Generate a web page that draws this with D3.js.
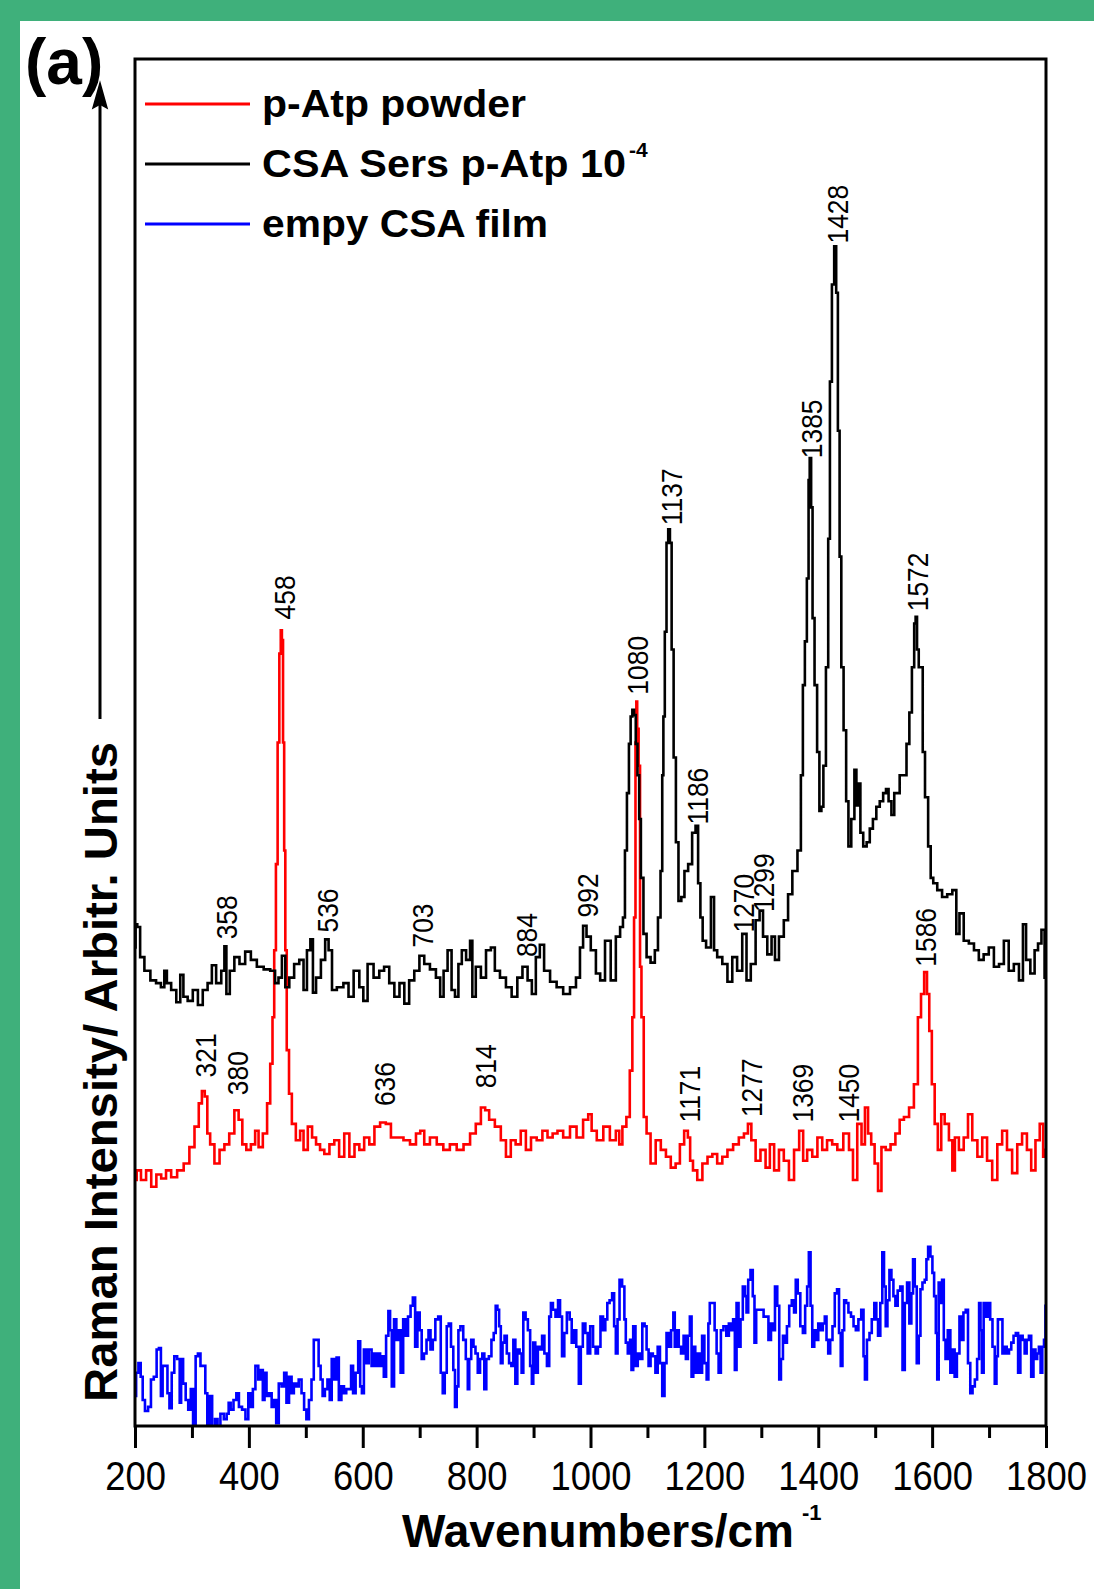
<!DOCTYPE html>
<html>
<head>
<meta charset="utf-8">
<script src="https://cdn.jsdelivr.net/npm/d3@7"></script>
<style>
  body { margin: 0; background: #fff; }
  svg { display: block; font-family: Arial, "Liberation Sans", sans-serif; }
</style>
</head>
<body>
<svg id="chart"></svg>
<script>
// x axis ticks (wavenumber, cm^-1)
const majorTicks = [200, 400, 600, 800, 1000, 1200, 1400, 1600, 1800];
const minorTicks = [300, 500, 700, 900, 1100, 1300, 1500, 1700];

// [wavenumber, intensity (arb. units)]
const csaSers = [[200,35.0],[202,36.7],[206,36.5],[212,34.3],[221,33.3],[233,32.6],[241,32.4],[250,32.1],[253,33.3],[259,32.4],[268,31.9],[277,31.0],[282,33.0],[288,31.4],[297,31.1],[306,31.9],[315,30.8],[323,31.9],[332,32.4],[338,33.7],[347,32.4],[356,33.3],[358,35.1],[363,31.6],[370,33.3],[379,34.3],[388,33.8],[399,34.7],[408,34.1],[420,33.6],[432,33.4],[443,33.3],[449,32.4],[455,32.8],[461,34.4],[467,32.1],[475,32.8],[484,33.8],[493,34.1],[499,31.9],[505,34.8],[511,35.6],[514,31.7],[522,32.8],[531,34.1],[537,35.6],[543,34.8],[549,31.9],[560,32.1],[572,32.4],[578,31.4],[590,33.3],[598,32.1],[604,31.1],[613,33.8],[625,32.8],[633,33.3],[642,33.6],[651,32.4],[660,31.4],[669,32.4],[677,30.9],[686,32.6],[695,33.3],[704,34.4],[712,33.8],[724,33.4],[733,32.8],[739,31.4],[745,33.3],[753,34.8],[759,31.9],[765,31.4],[771,33.8],[777,34.8],[786,34.1],[791,35.5],[794,31.4],[803,33.6],[812,32.8],[821,34.8],[829,35.0],[835,33.3],[847,32.8],[856,32.1],[867,31.4],[876,32.8],[885,33.6],[894,32.6],[900,31.6],[908,34.3],[914,35.2],[923,33.3],[935,32.5],[946,32.1],[958,31.6],[970,32.1],[979,32.8],[984,35.0],[990,36.6],[996,35.8],[1005,34.8],[1014,33.1],[1020,32.6],[1031,35.5],[1040,32.6],[1049,35.8],[1055,36.5],[1059,37.2],[1062,42.1],[1066,46.3],[1069,49.9],[1072,51.9],[1075,52.4],[1078,52.0],[1081,49.9],[1084,47.6],[1087,44.4],[1090,40.1],[1096,36.0],[1101,34.3],[1110,33.9],[1116,34.8],[1121,37.2],[1125,40.6],[1127,47.6],[1129,51.9],[1132,58.1],[1135,64.6],[1138,65.6],[1141,64.6],[1144,56.8],[1148,48.9],[1152,42.7],[1157,38.4],[1162,38.7],[1168,40.6],[1175,41.1],[1182,43.4],[1187,43.9],[1191,39.7],[1195,37.2],[1199,35.5],[1207,35.0],[1216,38.7],[1218,34.8],[1227,34.3],[1236,33.8],[1245,32.5],[1253,34.3],[1262,33.3],[1271,36.0],[1277,32.6],[1286,33.8],[1294,37.0],[1300,37.7],[1306,35.8],[1315,34.5],[1321,35.8],[1327,34.1],[1335,35.8],[1344,37.0],[1350,38.9],[1359,40.6],[1368,42.1],[1371,47.6],[1375,54.2],[1378,57.4],[1382,62.0],[1384,69.2],[1386,70.8],[1389,67.2],[1391,59.1],[1396,54.2],[1400,49.3],[1404,45.0],[1407,45.3],[1411,48.3],[1416,55.5],[1419,64.9],[1422,76.4],[1426,83.5],[1430,86.3],[1433,82.9],[1436,72.8],[1439,63.6],[1442,55.5],[1447,50.9],[1451,45.7],[1455,42.4],[1461,44.4],[1466,48.0],[1468,45.4],[1472,47.0],[1476,43.4],[1482,42.4],[1488,42.7],[1493,43.7],[1499,44.4],[1505,45.3],[1511,45.7],[1517,46.3],[1521,46.6],[1526,45.7],[1531,44.7],[1536,46.3],[1540,46.3],[1546,47.6],[1552,47.6],[1558,49.9],[1562,52.2],[1567,55.5],[1570,58.7],[1572,59.2],[1575,56.8],[1578,55.5],[1582,55.5],[1585,49.3],[1590,46.0],[1596,42.4],[1599,40.1],[1605,39.7],[1613,39.2],[1622,38.7],[1631,38.9],[1640,39.2],[1645,36.0],[1651,37.5],[1660,35.5],[1669,35.3],[1678,34.8],[1686,34.1],[1695,34.5],[1704,35.0],[1713,33.6],[1722,33.8],[1730,35.5],[1739,33.3],[1748,33.8],[1757,32.6],[1762,36.7],[1768,34.1],[1777,33.1],[1783,34.8],[1789,35.3],[1795,36.3],[1800,32.8]];

const atpPowder = [[200,18.0],[206,18.7],[215,18.0],[224,18.7],[233,17.5],[242,18.4],[250,18.1],[259,18.7],[268,18.2],[280,18.7],[291,19.2],[300,20.4],[309,21.9],[315,23.6],[320,24.5],[325,24.1],[329,21.4],[335,20.6],[344,19.2],[353,20.2],[361,20.6],[370,21.4],[379,23.1],[385,22.4],[392,20.6],[399,20.2],[408,20.6],[414,21.6],[420,20.4],[429,21.4],[435,23.6],[440,26.5],[443,29.9],[446,34.8],[449,41.1],[452,50.0],[455,56.5],[457,58.2],[459,57.5],[461,50.0],[463,42.1],[465,34.8],[468,27.5],[473,24.3],[478,22.1],[487,20.9],[493,21.6],[499,20.2],[508,21.9],[514,21.1],[522,20.6],[528,20.2],[537,19.9],[546,20.6],[554,20.9],[563,19.7],[572,21.4],[581,19.7],[590,20.6],[598,20.2],[607,21.1],[616,20.6],[625,21.9],[636,22.2],[645,22.1],[654,21.1],[666,21.1],[677,20.9],[689,20.6],[698,21.4],[704,21.6],[712,20.6],[724,21.1],[736,20.6],[747,20.2],[759,20.6],[771,20.2],[783,20.6],[794,21.4],[803,22.1],[812,23.3],[818,23.1],[826,22.4],[838,21.9],[847,20.9],[856,19.7],[864,20.9],[873,20.6],[882,21.6],[891,20.2],[900,21.1],[911,20.9],[920,21.6],[929,21.1],[938,21.4],[946,21.6],[958,21.1],[970,21.9],[981,21.1],[993,22.4],[999,22.8],[1005,21.6],[1017,20.9],[1028,21.9],[1040,20.9],[1049,21.6],[1052,20.6],[1060,21.9],[1066,22.6],[1072,26.0],[1075,29.9],[1078,37.2],[1080,50.0],[1081,53.0],[1083,51.0],[1086,48.3],[1088,33.6],[1091,29.9],[1096,22.6],[1101,21.4],[1110,19.2],[1119,20.9],[1128,20.2],[1137,19.7],[1145,18.9],[1154,19.2],[1160,20.6],[1169,21.6],[1173,21.1],[1177,19.4],[1183,18.7],[1192,18.0],[1201,19.2],[1210,19.7],[1218,19.9],[1227,19.2],[1236,19.7],[1245,20.2],[1256,20.6],[1265,21.1],[1274,21.4],[1279,22.1],[1286,20.9],[1294,19.4],[1303,20.2],[1312,18.9],[1318,20.6],[1327,18.7],[1335,20.2],[1344,19.4],[1353,18.0],[1362,20.2],[1371,21.6],[1376,19.4],[1385,20.2],[1394,19.7],[1403,21.1],[1411,20.2],[1420,20.9],[1429,20.6],[1438,20.2],[1450,21.4],[1458,20.2],[1464,18.0],[1473,22.1],[1479,20.6],[1485,23.3],[1490,21.4],[1496,20.6],[1502,19.2],[1508,17.2],[1514,20.4],[1523,20.2],[1531,20.6],[1540,21.4],[1546,22.4],[1555,22.6],[1564,23.3],[1572,25.0],[1578,29.9],[1583,31.6],[1589,33.2],[1593,31.6],[1597,28.9],[1602,25.0],[1607,22.1],[1613,20.2],[1619,22.8],[1625,22.1],[1634,20.9],[1637,18.7],[1643,21.1],[1651,20.2],[1660,21.1],[1666,22.8],[1675,20.9],[1684,19.7],[1692,21.1],[1701,19.4],[1710,18.0],[1719,20.6],[1727,21.6],[1736,20.2],[1745,18.5],[1754,20.6],[1762,21.4],[1771,20.2],[1777,18.7],[1786,20.9],[1792,22.1],[1798,19.7],[1800,20.2]];

const emptyFilm = [[200,2.2],[204,3.9],[208,4.6],[212,3.6],[215,1.9],[220,1.1],[226,1.4],[230,3.4],[236,3.6],[240,5.6],[244,5.7],[247,2.2],[250,4.4],[255,4.4],[259,2.4],[262,1.3],[267,3.9],[271,5.1],[277,4.9],[280,1.7],[282,4.9],[287,3.1],[291,1.9],[296,1.2],[300,2.7],[304,-0.5],[309,5.1],[312,5.3],[318,4.4],[322,4.4],[325,2.4],[329,-0.5],[333,2.2],[338,-0.5],[343,0.5],[347,-0.5],[353,0.9],[359,0.5],[363,0.9],[366,1.7],[370,1.2],[376,1.9],[380,2.4],[385,1.4],[391,1.2],[397,0.5],[401,2.4],[405,1.4],[409,2.7],[414,4.4],[419,3.4],[423,4.1],[426,1.9],[429,3.9],[433,2.2],[438,2.4],[442,1.4],[446,1.9],[450,0.2],[455,3.1],[460,2.9],[464,3.9],[468,1.7],[473,3.6],[477,2.4],[481,3.1],[485,2.9],[490,3.4],[495,2.4],[499,1.2],[503,0.5],[508,1.9],[512,3.4],[516,6.3],[521,6.3],[524,4.4],[528,3.4],[531,2.2],[536,2.7],[540,3.4],[544,1.9],[547,4.9],[552,3.4],[556,5.0],[560,1.9],[565,2.9],[569,2.4],[573,2.7],[578,2.7],[581,4.4],[585,2.4],[590,3.9],[594,6.2],[597,2.9],[600,2.4],[604,5.6],[608,4.6],[613,5.6],[618,4.4],[622,5.3],[626,4.4],[629,5.3],[632,4.4],[635,5.1],[639,3.6],[643,6.6],[647,8.4],[649,7.0],[653,2.9],[657,7.8],[661,6.3],[664,7.0],[669,3.9],[673,7.8],[677,6.6],[682,8.0],[686,8.8],[690,9.4],[694,5.8],[698,8.3],[702,7.0],[705,4.9],[710,5.3],[714,6.3],[717,7.0],[721,5.6],[725,6.3],[730,7.8],[735,8.0],[739,3.9],[742,2.4],[746,3.9],[749,7.3],[753,7.5],[757,5.8],[761,4.1],[763,1.4],[767,2.9],[769,7.0],[774,7.3],[779,6.3],[783,4.9],[786,2.7],[788,4.9],[793,6.3],[796,5.8],[800,5.3],[804,3.9],[808,4.9],[812,5.3],[815,2.7],[819,4.9],[824,5.1],[828,6.3],[832,6.8],[835,8.8],[838,8.5],[841,7.3],[844,4.6],[847,6.1],[851,6.6],[855,5.3],[859,4.6],[863,4.4],[866,6.3],[870,3.1],[873,5.6],[878,5.3],[880,3.9],[884,8.3],[888,7.8],[892,7.0],[896,4.4],[898,3.1],[901,6.1],[905,3.9],[910,5.8],[913,5.6],[917,6.6],[921,5.3],[926,4.4],[929,8.0],[932,9.0],[936,8.5],[941,8.0],[945,9.2],[948,8.0],[952,5.1],[956,6.8],[961,8.3],[966,7.8],[968,6.1],[973,7.0],[977,5.8],[982,3.1],[984,5.8],[989,7.5],[993,6.8],[997,5.3],[1002,7.3],[1007,5.8],[1011,5.3],[1015,5.8],[1020,8.0],[1024,7.0],[1028,7.8],[1031,9.0],[1036,9.2],[1040,9.7],[1043,7.3],[1046,5.3],[1049,7.8],[1053,10.7],[1058,10.2],[1061,7.8],[1063,6.1],[1068,5.3],[1071,6.3],[1073,4.1],[1077,7.3],[1081,4.4],[1085,5.3],[1089,4.9],[1093,7.5],[1097,7.3],[1100,5.6],[1104,4.4],[1107,5.3],[1112,5.1],[1116,3.9],[1120,5.8],[1124,4.6],[1128,2.2],[1132,4.6],[1135,6.8],[1139,5.8],[1144,7.0],[1147,8.3],[1149,5.8],[1153,7.0],[1157,5.8],[1161,5.3],[1166,6.6],[1169,4.9],[1173,6.6],[1176,8.0],[1179,3.6],[1182,5.8],[1186,3.9],[1190,5.3],[1194,3.9],[1198,6.6],[1202,4.6],[1206,3.4],[1208,7.5],[1211,9.0],[1216,9.0],[1220,7.0],[1223,5.3],[1227,3.9],[1231,7.0],[1236,7.3],[1241,6.6],[1245,7.5],[1249,7.0],[1252,7.8],[1255,4.1],[1258,9.0],[1262,5.8],[1265,7.8],[1270,10.2],[1273,9.5],[1275,8.3],[1279,10.7],[1283,11.4],[1287,9.5],[1289,6.1],[1293,8.5],[1297,8.5],[1302,8.5],[1306,8.0],[1310,8.0],[1315,6.3],[1319,7.5],[1322,7.0],[1326,10.2],[1330,8.8],[1333,3.4],[1336,4.9],[1340,6.6],[1343,6.1],[1347,7.3],[1351,8.8],[1356,9.2],[1359,8.3],[1362,10.7],[1366,9.7],[1371,7.3],[1375,6.8],[1379,8.8],[1382,10.2],[1385,12.7],[1388,8.8],[1391,5.8],[1395,7.0],[1398,6.3],[1402,7.5],[1406,7.0],[1410,7.5],[1413,8.0],[1416,6.3],[1419,5.3],[1423,6.3],[1427,7.3],[1431,9.7],[1435,10.0],[1438,6.8],[1441,4.4],[1444,7.0],[1447,9.2],[1451,9.0],[1455,8.3],[1460,8.0],[1464,7.3],[1468,7.0],[1473,7.8],[1478,8.5],[1481,5.1],[1483,3.4],[1488,6.3],[1492,6.8],[1496,7.8],[1501,9.0],[1503,7.8],[1507,6.6],[1511,9.0],[1514,12.7],[1517,10.2],[1520,7.3],[1523,9.2],[1527,11.4],[1530,10.7],[1534,9.5],[1537,8.8],[1542,9.9],[1546,10.2],[1550,4.1],[1554,9.0],[1558,10.5],[1562,7.5],[1565,9.7],[1568,12.2],[1571,10.2],[1575,4.6],[1578,6.6],[1581,10.0],[1585,10.5],[1589,10.7],[1591,12.2],[1595,13.1],[1599,12.4],[1602,11.2],[1605,9.5],[1608,6.8],[1610,3.4],[1613,10.5],[1616,9.0],[1619,10.7],[1622,6.3],[1625,4.9],[1630,7.0],[1634,3.9],[1638,5.6],[1641,3.6],[1646,5.3],[1650,8.0],[1653,6.3],[1657,8.3],[1661,8.5],[1665,4.6],[1669,2.4],[1673,2.9],[1677,3.4],[1681,4.9],[1684,9.0],[1686,7.0],[1689,3.9],[1692,9.0],[1696,8.0],[1700,9.0],[1704,7.8],[1708,5.8],[1712,3.1],[1714,5.1],[1717,7.8],[1722,7.8],[1725,5.3],[1729,5.8],[1733,5.3],[1737,5.6],[1741,6.1],[1745,6.6],[1749,6.8],[1753,3.9],[1757,6.6],[1761,6.3],[1764,5.3],[1768,6.3],[1772,6.6],[1776,3.6],[1780,5.6],[1783,4.9],[1786,5.3],[1789,5.8],[1792,3.9],[1795,5.8],[1798,6.3],[1800,8.8]];

// peak annotations: [text, wavenumber at label centre, intensity where the label starts]
const peakLabels = [
  ["358", 360, 35.6], ["536", 537, 36.1], ["703", 704, 35.0], ["884", 887, 34.3],
  ["992", 994, 37.2], ["1080", 1082, 53.5], ["1137", 1141, 65.9], ["1186", 1188, 44.0],
  ["1270", 1269, 36.1], ["1299", 1303, 37.6], ["1385", 1387, 70.8], ["1428", 1433, 86.5],
  ["1572", 1573, 59.6], ["1586", 1587, 33.6],
  ["321", 323, 25.5], ["380", 380, 24.2], ["458", 462, 59.0], ["636", 637, 23.4],
  ["814", 815, 24.7], ["1171", 1173, 22.2], ["1277", 1282, 22.6], ["1369", 1371, 22.2],
  ["1450", 1452, 22.2]
];

const seriesNames = ["p-Atp powder", "CSA Sers p-Atp 10", "empy CSA film"];
const seriesColors = ["#ff0000", "#000000", "#0000ff"];

const W = 1094, H = 1589;
const plot = { left: 135, right: 1046, top: 59, bottom: 1426 };

const svg = d3.select("#chart").attr("width", W).attr("height", H);

// green page border (top and left)
svg.append("rect").attr("x", 0).attr("y", 0).attr("width", W).attr("height", 21).attr("fill", "#3fb07b");
svg.append("rect").attr("x", 0).attr("y", 0).attr("width", 20).attr("height", H).attr("fill", "#3fb07b");

const x = d3.scaleLinear().domain([200, 1800]).range([plot.left, plot.right]);
const y = d3.scaleLinear().domain([0, 100]).range([plot.bottom, plot.top]);

svg.append("clipPath").attr("id", "plot-clip")
  .append("rect")
  .attr("x", plot.left).attr("y", plot.top)
  .attr("width", plot.right - plot.left).attr("height", plot.bottom - plot.top);

const line = d3.line()
  .x(d => x(d[0]))
  .y(d => y(d[1]))
  .curve(d3.curveStep);

const traces = svg.append("g").attr("clip-path", "url(#plot-clip)");
[[emptyFilm, seriesColors[2]], [atpPowder, seriesColors[0]], [csaSers, seriesColors[1]]].forEach(([data, color]) => {
  traces.append("path")
    .datum(data)
    .attr("fill", "none")
    .attr("stroke", color)
    .attr("stroke-width", 2.6)
    .attr("d", line);
});

// peak labels
svg.append("g").selectAll("text")
  .data(peakLabels)
  .join("text")
  .attr("transform", d => `translate(${x(d[1])},${y(d[2])}) rotate(-90) scale(0.88,1)`)
  .attr("dy", "0.36em")
  .attr("font-size", 30)
  .attr("fill", "#000")
  .text(d => d[0]);

// frame
svg.append("rect")
  .attr("x", plot.left).attr("y", plot.top)
  .attr("width", plot.right - plot.left).attr("height", plot.bottom - plot.top)
  .attr("fill", "none").attr("stroke", "#000").attr("stroke-width", 3);

// x axis: major + minor ticks
const xAxis = svg.append("g").attr("transform", `translate(0,${plot.bottom})`)
  .call(d3.axisBottom(x).tickValues(majorTicks).tickSize(22).tickPadding(14).tickFormat(d3.format("d")));
xAxis.select(".domain").remove();
xAxis.selectAll("line").attr("stroke-width", 3);
xAxis.selectAll("text")
  .attr("font-size", 40)
  .attr("font-family", "Arial, 'Liberation Sans', sans-serif")
  .attr("fill", "#000")
  .attr("transform", "scale(0.91,1)");

const xMinor = svg.append("g").attr("transform", `translate(0,${plot.bottom})`)
  .call(d3.axisBottom(x).tickValues(minorTicks).tickSize(12).tickFormat(""));
xMinor.select(".domain").remove();
xMinor.selectAll("line").attr("stroke-width", 3);

// x title
svg.append("text")
  .attr("x", 598).attr("y", 1547)
  .attr("text-anchor", "middle")
  .attr("font-size", 46).attr("font-weight", "bold")
  .text("Wavenumbers/cm");
svg.append("text")
  .attr("x", 802).attr("y", 1520)
  .attr("font-size", 22).attr("font-weight", "bold")
  .text("-1");

// y title with arrow
svg.append("text")
  .attr("transform", "translate(117,1072) rotate(-90)")
  .attr("text-anchor", "middle")
  .attr("font-size", 46).attr("font-weight", "bold")
  .attr("textLength", 660).attr("lengthAdjust", "spacingAndGlyphs")
  .text("Raman Intensity/ Arbitr. Units");
svg.append("line")
  .attr("x1", 100).attr("x2", 100).attr("y1", 719).attr("y2", 100)
  .attr("stroke", "#000").attr("stroke-width", 3);
svg.append("path")
  .attr("d", "M100,83 L107,108 L100,104 L93,108 Z")
  .attr("fill", "#000").attr("stroke", "#000").attr("stroke-width", 1.5);

// panel letter
svg.append("text")
  .attr("x", 25).attr("y", 84)
  .attr("font-size", 64).attr("font-weight", "bold")
  .text("(a)");

// legend
const legendRows = [104, 164, 224];
const legendWidths = [264, 364, 286];
const legend = svg.append("g");
seriesNames.forEach((name, i) => {
  legend.append("line")
    .attr("x1", 145).attr("x2", 250)
    .attr("y1", legendRows[i]).attr("y2", legendRows[i])
    .attr("stroke", seriesColors[i]).attr("stroke-width", 3);
  legend.append("text")
    .attr("x", 262).attr("y", legendRows[i] + 13)
    .attr("font-size", 39).attr("font-weight", "bold")
    .attr("textLength", legendWidths[i]).attr("lengthAdjust", "spacingAndGlyphs")
    .text(name);
});
legend.append("text")
  .attr("x", 629).attr("y", 157)
  .attr("font-size", 21).attr("font-weight", "bold")
  .text("-4");
</script>
</body>
</html>
